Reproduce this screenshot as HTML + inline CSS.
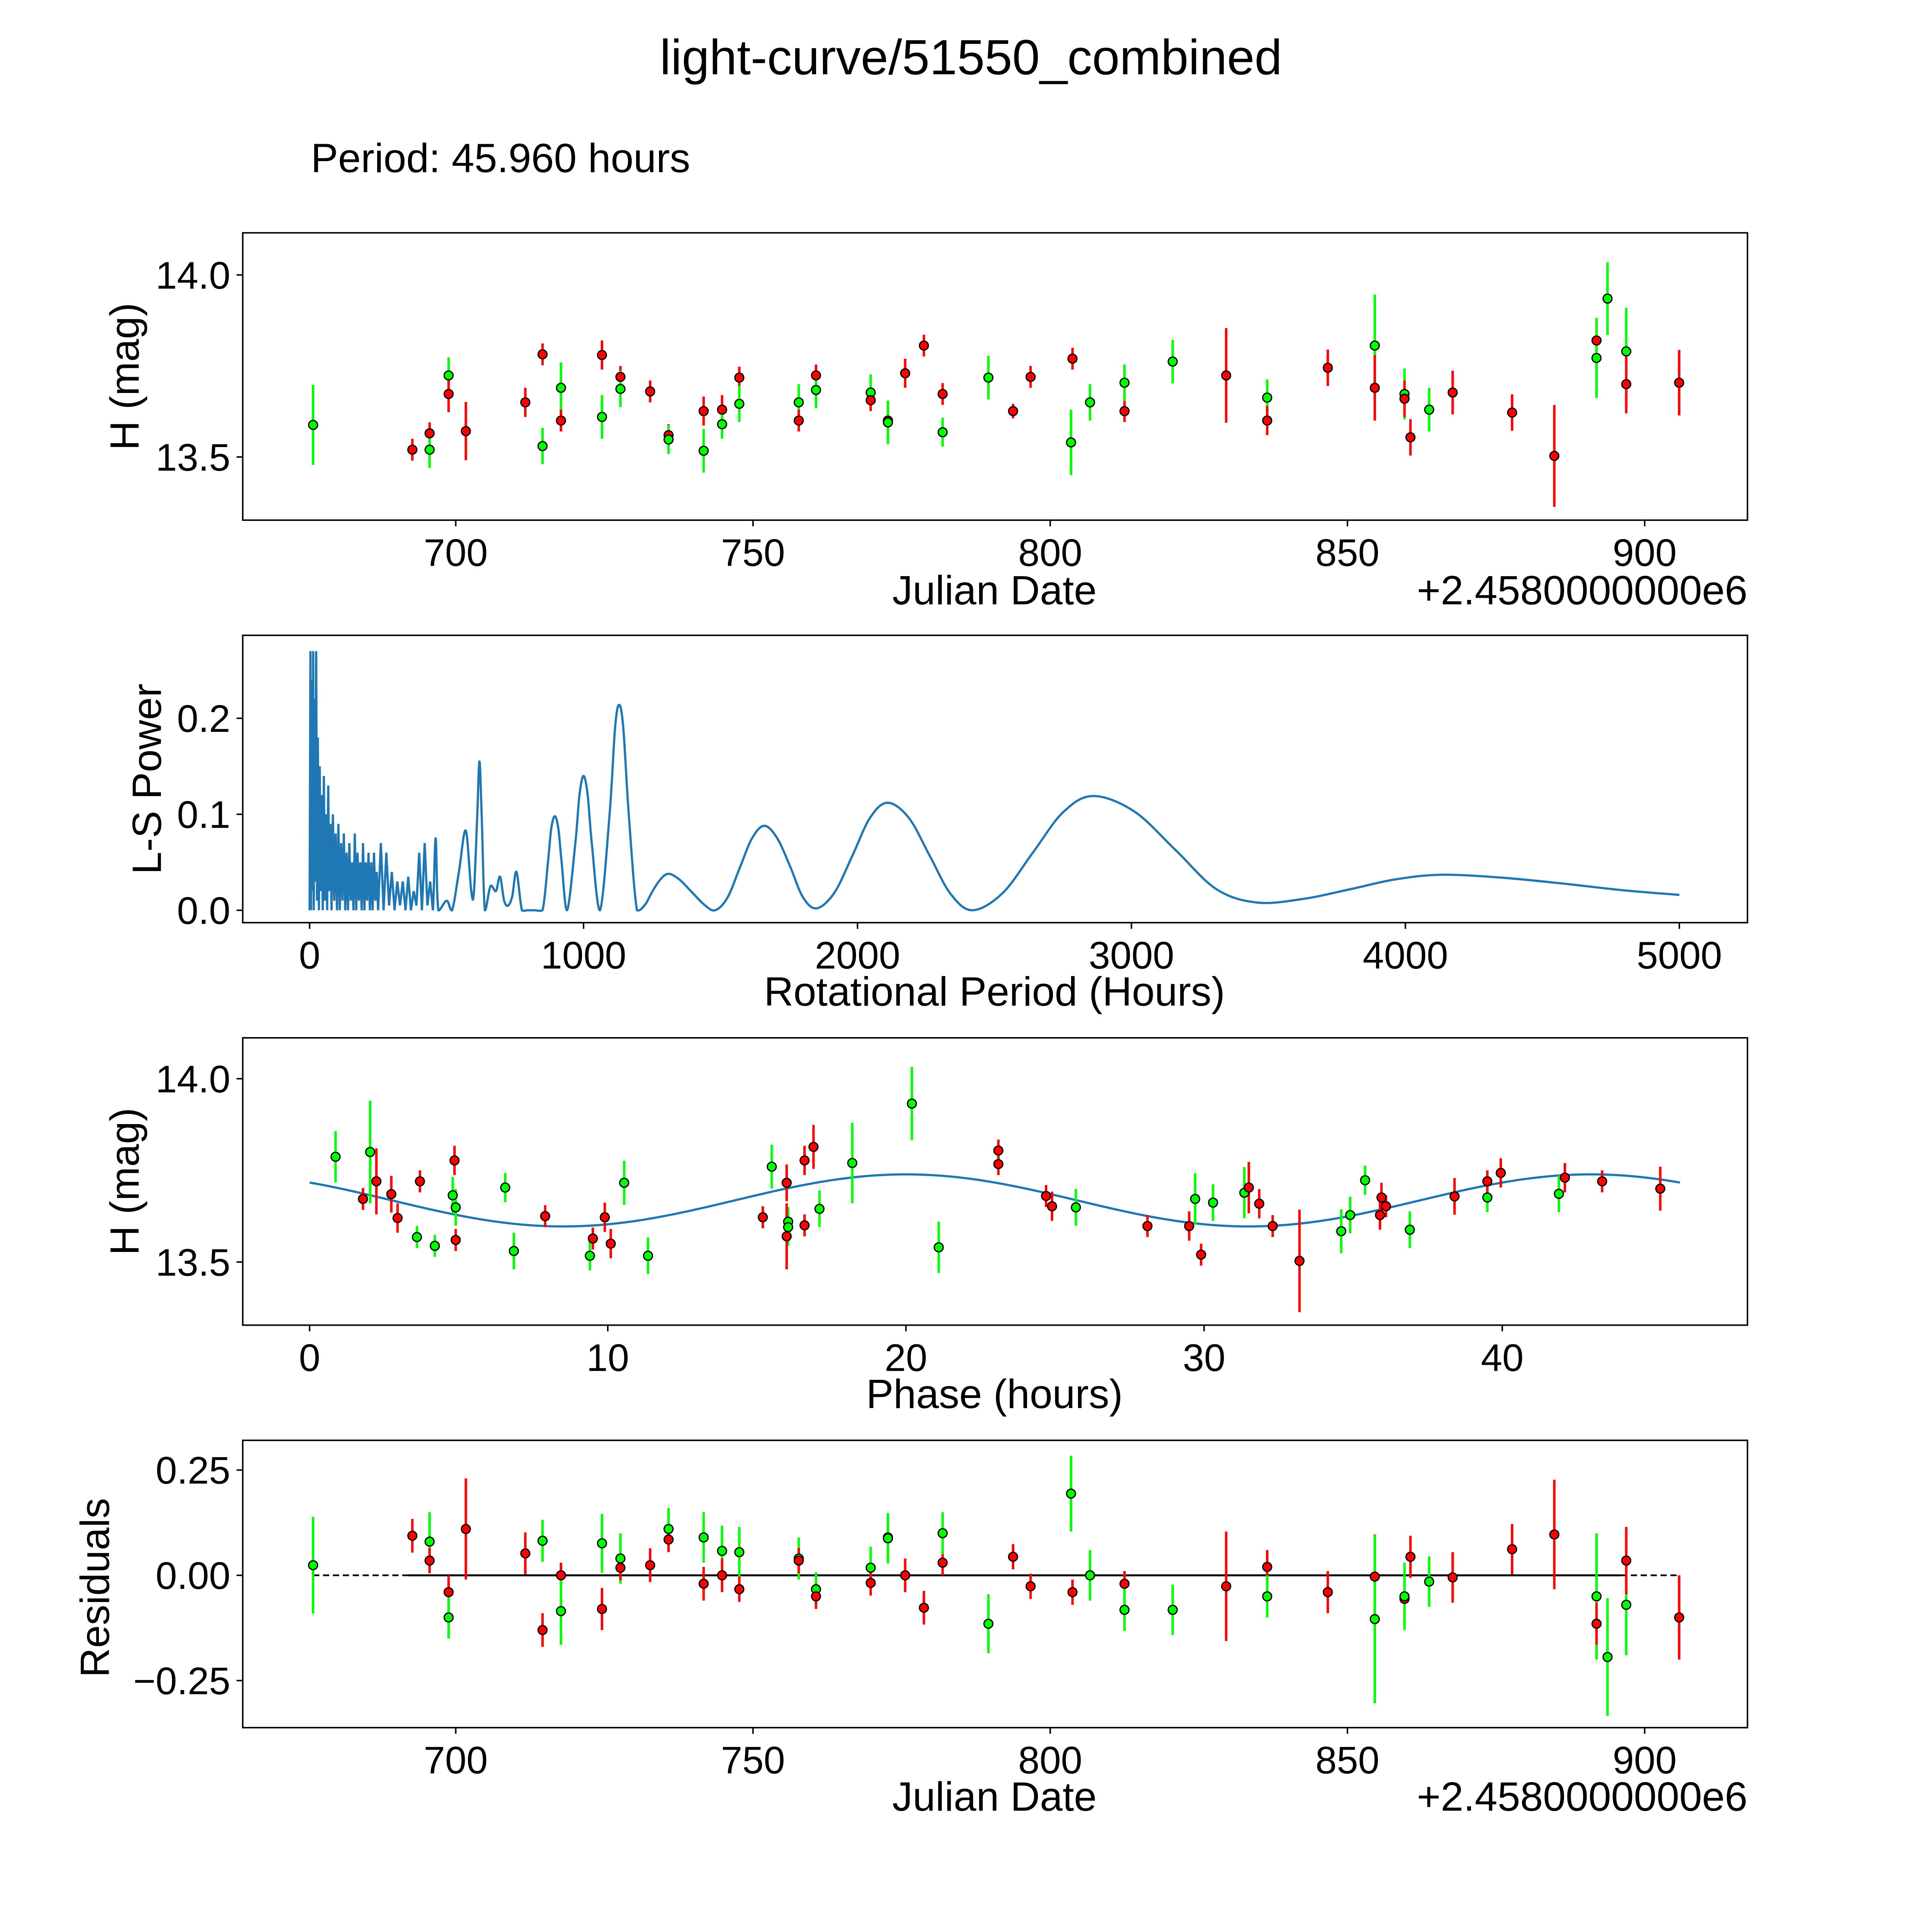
<!DOCTYPE html>
<html><head><meta charset="utf-8"><style>
html,body{margin:0;padding:0;background:#fff;width:100%;height:100%;overflow:hidden}
svg{display:block;position:fixed;left:0;top:0;width:100vw;height:100vh}
text{font-family:"Liberation Sans","DejaVu Sans",sans-serif;fill:#000}
</style></head><body>
<svg id="fig" xmlns="http://www.w3.org/2000/svg" viewBox="0 0 1560 1560" preserveAspectRatio="xMidYMid meet">
<rect width="1560" height="1560" fill="#fff"/>
<text x="784" y="60" font-size="40" text-anchor="middle">light-curve/51550_combined</text>
<text x="251" y="139" font-size="33">Period: 45.960 hours</text>
<g id="layer"></g>
</svg>
<script>
// ---- Panel 1: light curve (JD - 2458000) ----
const lcDate=[676,692.7,695.6,695.6,698.8,698.8,701.7,711.7,714.6,714.6,717.7,717.7,724.6,724.6,727.7,727.7,732.7,735.8,735.8,741.7,741.7,744.8,744.8,747.7,747.7,757.7,757.7,760.6,760.6,769.8,769.8,772.7,772.7,775.6,778.75,781.9,781.9,789.6,793.75,796.7,803.75,803.5,806.7,812.5,812.5,820.6,829.6,836.5,836.5,846.7,854.6,854.6,859.6,859.6,860.6,863.75,867.7,877.7,884.8,891.9,891.9,893.75,896.9,896.9,905.8];
const lcMag=[13.588,13.52,13.565,13.52,13.724,13.673,13.571,13.65,13.782,13.53,13.69,13.60,13.61,13.78,13.72,13.687,13.68,13.56,13.548,13.626,13.517,13.63,13.59,13.718,13.646,13.65,13.60,13.724,13.684,13.677,13.656,13.60,13.595,13.73,13.806,13.673,13.568,13.718,13.626,13.72,13.77,13.54,13.65,13.626,13.704,13.762,13.724,13.663,13.60,13.745,13.806,13.69,13.673,13.66,13.554,13.63,13.677,13.622,13.503,13.82,13.772,13.935,13.79,13.70,13.704];
const lcErr=[0.11,0.03,0.03,0.05,0.05,0.05,0.08,0.04,0.03,0.05,0.07,0.03,0.06,0.04,0.03,0.05,0.03,0.03,0.04,0.04,0.06,0.04,0.04,0.03,0.05,0.05,0.03,0.03,0.05,0.05,0.03,0.04,0.06,0.04,0.03,0.03,0.04,0.06,0.02,0.03,0.03,0.09,0.05,0.03,0.05,0.06,0.13,0.05,0.04,0.05,0.14,0.09,0.07,0.05,0.05,0.06,0.06,0.05,0.14,0.05,0.11,0.10,0.12,0.08,0.09];
const lcColor=["g","r","r","g","g","r","r","r","r","g","g","r","g","r","r","g","r","r","g","r","g","r","g","r","g","g","r","r","g","g","r","r","g","r","r","r","g","g","r","r","r","g","g","r","g","g","r","g","r","r","g","r","g","r","r","g","r","r","r","r","g","g","g","r","r"];

// ---- Panel 2: Lomb-Scargle periodogram ----
const lsPeriod=[0,3,5,8,10,13,15,18,20,24,27,30,34,37,40,44,48,52,56,60,64,68,72,76,80,85,90,95,100,105,110,115,120,125,130,135,140,145,150,155,160,165,170,175,180,185,190,195,200,205,210,215,220,225,230,235,240,245,250,260,270,280,290,300,310,320,330,340,350,360,370,380,390,400,410,420,430,440,
 450,460,470,500,520,545,570,590,600,612,620,628,640,660,680,695,710,725,740,755,775,795,820,850,870,882,895,908,920,940,970,985,1000,1015,1030,1060,1095,1115,1130,1145,1165,1195,
 1225,1250,1280,1310,1350,1395,1440,1480,1525,1570,1615,1660,1707,1755,1800,1850,1915,1980,2045,2110,2188,2265,2340,2420,2530,2640,2750,2860,3010,3160,3310,3460,3630,3800,3960,4130,4350,4570,4790,5000];
const lsPower=[0,0.27,0.0,0.24,0.02,0.27,0.0,0.22,0.03,0.27,0.01,0.18,0.0,0.15,0.02,0.12,0.0,0.14,0.01,0.10,0.0,0.13,0.02,0.09,0.0,0.10,0.01,0.08,0.0,0.09,0.0,0.07,0.01,0.08,0.0,0.06,0.0,0.07,0.01,0.05,0.0,0.08,0.0,0.06,0.01,0.05,0.0,0.07,0.0,0.05,0.01,0.06,0.0,0.05,0.0,0.06,0.01,0.04,0.0,0.07,0.0,0.06,0.005,0.04,0.0,0.03,0.005,0.03,0.0,0.035,0.0,0.02,0.005,0.06,0.0,0.07,0.005,0.03,
 0.0,0.075,0.0,0.01,0.0,0.04,0.083,0.02,0.02,0.10,0.155,0.10,0.0,0.025,0.02,0.035,0.01,0.005,0.015,0.04,0.0,0.0,0.0,0.0,0.05,0.085,0.098,0.085,0.05,0.0,0.07,0.12,0.14,0.12,0.07,0.0,0.10,0.19,0.214,0.19,0.10,0.0,
 0.006,0.019,0.032,0.038,0.032,0.019,0.006,0.0,0.013,0.044,0.075,0.088,0.075,0.045,0.014,0.002,0.018,0.056,0.096,0.112,0.096,0.056,0.017,0.0,0.018,0.06,0.102,0.119,0.103,0.063,0.022,0.008,0.012,0.022,0.032,0.037,0.034,0.028,0.021,0.016];

// ---- Panel 3: phased light curve ----
const phPhase=[0.87,1.79,2.03,2.24,2.74,2.95,3.7,3.6,4.2,4.86,4.8,4.9,4.9,6.56,6.85,7.9,9.4,9.5,9.9,10.1,10.55,11.35,15.2,15.5,16.0,16.05,16.05,16.0,16.6,16.9,16.6,17.1,18.2,20.2,21.1,23.1,23.1,24.7,24.9,25.7,28.1,29.5,29.7,29.9,30.3,31.35,31.5,31.85,32.3,33.2,34.6,34.9,35.4,35.9,35.95,36.1,36.9,38.4,39.5,39.5,39.95,41.9,42.1,43.35,45.3];
const phMag=[13.787,13.672,13.80,13.72,13.685,13.62,13.72,13.568,13.544,13.777,13.682,13.649,13.56,13.703,13.53,13.625,13.517,13.564,13.622,13.55,13.716,13.517,13.622,13.76,13.716,13.61,13.595,13.57,13.777,13.814,13.60,13.645,13.77,13.932,13.54,13.804,13.767,13.68,13.652,13.649,13.598,13.598,13.672,13.52,13.662,13.689,13.703,13.659,13.598,13.503,13.584,13.628,13.723,13.628,13.676,13.652,13.588,13.679,13.676,13.72,13.743,13.686,13.73,13.72,13.70];
const phErr=[0.07,0.03,0.14,0.09,0.05,0.04,0.03,0.03,0.03,0.04,0.05,0.05,0.03,0.04,0.05,0.03,0.04,0.03,0.04,0.04,0.06,0.05,0.03,0.06,0.05,0.04,0.05,0.09,0.04,0.06,0.03,0.05,0.11,0.10,0.07,0.03,0.03,0.03,0.04,0.05,0.03,0.04,0.07,0.03,0.05,0.07,0.07,0.04,0.03,0.14,0.06,0.05,0.04,0.04,0.04,0.03,0.05,0.05,0.04,0.03,0.04,0.05,0.04,0.03,0.06];
const phColor=["g","r","g","r","r","r","r","g","g","r","g","g","r","g","g","r","g","r","r","r","g","g","r","g","r","g","g","r","r","r","r","g","g","g","g","r","r","r","r","g","r","r","g","r","g","g","r","r","r","r","g","g","g","r","r","r","g","r","g","r","r","g","r","r","r"];
// fitted model: mean, amplitude, peak phase (hours), period (hours)
const fitMean=[13.668];
const fitAmp=[0.071];
const fitPeak=[20.0];
const fitPeriod=[45.96];

// ---- Panel 4: residuals ----
const rsDate=[676,692.7,695.6,695.6,698.8,698.8,701.7,711.7,714.6,714.6,717.7,717.7,724.6,724.6,727.7,727.7,732.7,735.8,735.8,741.7,741.7,744.8,744.8,747.7,747.7,757.7,757.7,760.6,760.6,769.8,769.8,772.7,772.7,775.6,778.75,781.9,781.9,789.6,793.75,796.7,803.5,803.75,806.7,812.5,812.5,820.6,829.6,836.5,836.5,846.7,854.6,854.6,859.6,859.6,860.6,863.75,867.7,877.7,884.8,891.9,891.9,893.75,896.9,896.9,905.8];
const rsVal=[0.024,0.094,0.08,0.035,-0.04,-0.1,0.11,0.052,0.082,-0.13,0,-0.085,0.076,-0.08,0.04,0.018,0.024,0.11,0.085,0.09,-0.02,0.058,0,0.055,-0.033,0.04,0.035,-0.033,-0.05,0.018,-0.018,0.09,0.088,0,-0.077,0.03,0.1,-0.115,0.044,-0.026,0.194,-0.04,0,-0.02,-0.082,-0.082,-0.026,0.02,-0.05,-0.04,-0.003,-0.104,-0.056,-0.05,0.044,-0.015,-0.005,0.062,0.097,-0.05,-0.115,-0.194,-0.07,0.035,-0.1];
const rsErr=[0.115,0.04,0.07,0.03,0.04,0.05,0.12,0.05,0.05,0.04,0.03,0.08,0.07,0.05,0.06,0.03,0.04,0.05,0.03,0.06,0.04,0.06,0.04,0.06,0.03,0.05,0.03,0.04,0.03,0.05,0.03,0.04,0.06,0.04,0.04,0.03,0.05,0.07,0.03,0.03,0.09,0.03,0.06,0.03,0.05,0.06,0.13,0.04,0.05,0.05,0.1,0.2,0.05,0.08,0.05,0.06,0.06,0.06,0.13,0.15,0.05,0.14,0.12,0.08,0.1];
const rsColor=["g","r","g","r","r","g","r","r","g","r","r","g","g","r","g","r","r","g","r","g","r","g","r","g","r","g","r","g","r","g","r","r","g","r","r","r","g","g","r","r","g","r","g","r","g","g","r","r","g","r","r","g","r","g","r","g","r","r","r","g","r","g","g","r","r"];

const xTicksJD=[700,750,800,850,900];
const yTicksMag=[13.5,14.0];
const xTicksLS=[0,1000,2000,3000,4000,5000];
const yTicksLS=[0.0,0.1,0.2];
const xTicksPh=[0,10,20,30,40];
const yTicksRs=[-0.25,0.00,0.25];

const NS="http://www.w3.org/2000/svg";
const layer=document.getElementById('layer');
function mk(tag,attrs,parent){const e=document.createElementNS(NS,tag);for(const k in attrs)e.setAttribute(k,attrs[k]);(parent||layer).appendChild(e);return e;}
function lin(d0,d1,p0,p1){return v=>p0+(v-d0)*(p1-p0)/(d1-d0);}
const COL={r:"#ff0000",g:"#00ff00"};
const TICKFS=31, LABFS=33;

function frame(name){
  const g=mk('g',{});
  
  
  return g;
}
function border(g,L,T,R,B){const r=mk('rect',{x:L,y:T,width:R-L,height:B-T,fill:'none',stroke:'#000','stroke-width':1.2},g);}
function xTicks(g,ticks,sx,B,fmt){ticks.forEach(t=>{const x=sx(t);
  const l=mk('line',{x1:x,x2:x,y1:B,y2:B+5,stroke:'#000','stroke-width':1.2},g);
  const tx=mk('text',{x:x,y:B+37,'font-size':TICKFS,'text-anchor':'middle'},g);tx.textContent=fmt(t);});}
function yTicks(g,ticks,sy,L,fmt){ticks.forEach(t=>{const y=sy(t);
  const l=mk('line',{x1:L-5,x2:L,y1:y,y2:y,stroke:'#000','stroke-width':1.2},g);
  const tx=mk('text',{x:L-10,y:y+11,'font-size':TICKFS,'text-anchor':'end'},g);tx.textContent=fmt(t);});}
function label(g,txt,x,y,rot,name){const t=mk('text',{x:x,y:y,'font-size':LABFS,'text-anchor':'middle',transform:rot?`rotate(-90 ${x} ${y})`:''},g);t.textContent=txt;}
function points(g,xs,ys,es,cs,sx,sy){
  for(let i=0;i<xs.length;i++){const x=sx(xs[i]);
    const l=mk('line',{x1:x,x2:x,y1:sy(ys[i]-es[i]),y2:sy(ys[i]+es[i]),stroke:COL[cs[i]],'stroke-width':2},g);
    
    }
  for(let i=0;i<xs.length;i++){
    const c=mk('circle',{cx:sx(xs[i]),cy:sy(ys[i]),r:3.6,fill:COL[cs[i]],stroke:'#000','stroke-width':1},g);
    
    }
}
const fmt1=v=>v.toFixed(1), fmt0=v=>String(v), fmt2=v=>(v<0?'\u2212':'')+Math.abs(v).toFixed(2);
function offsetLabel(g,R,y){const o=mk('text',{x:R,y:y,'font-size':LABFS,'text-anchor':'end'},g);o.textContent='+2.4580000000e6';}

// Panel 1
(function(){const L=196,T=188,R=1411,B=420;const g=frame('light-curve-panel');
  const sx=lin(700,900,368,1328), sy=lin(13.5,14.0,369,222);
  points(g,lcDate,lcMag,lcErr,lcColor,sx,sy);
  border(g,L,T,R,B);xTicks(g,xTicksJD,sx,B,fmt0);yTicks(g,yTicksMag,sy,L,fmt1);
  label(g,'Julian Date',803,488,false,'x-axis-title');label(g,'H (mag)',112,304,true,'y-axis-title');
  offsetLabel(g,R,488);
})();
// Panel 2
(function(){const L=196,T=513,R=1411,B=745;const g=frame('periodogram-panel');
  const sx=lin(0,5000,250,1356), sy=lin(0,0.2,735,580);
  const P=lsPeriod.map((p,i)=>[sx(p),sy(lsPower[i])]);
  let d='M'+P[0][0]+','+P[0][1];
  for(let i=0;i<P.length-1;i++){
    if(lsPeriod[i+1]<=450){d+=' L'+P[i+1][0]+','+P[i+1][1];continue;}
    const p0=P[Math.max(0,i-1)],p1=P[i],p2=P[i+1],p3=P[Math.min(P.length-1,i+2)];
    const c1=[p1[0]+(p2[0]-p0[0])/6,p1[1]+(p2[1]-p0[1])/6],c2=[p2[0]-(p3[0]-p1[0])/6,p2[1]-(p3[1]-p1[1])/6];
    c1[1]=Math.min(c1[1],sy(0)+1);c2[1]=Math.min(c2[1],sy(0)+1);
    d+=` C${c1[0]},${c1[1]} ${c2[0]},${c2[1]} ${p2[0]},${p2[1]}`;}
  const pl=mk('path',{d:d,fill:'none',stroke:'#1f77b4','stroke-width':1.8},g);
  
  
  border(g,L,T,R,B);xTicks(g,xTicksLS,sx,B,fmt0);yTicks(g,yTicksLS,sy,L,fmt1);
  label(g,'Rotational Period (Hours)',803,812,false,'x-axis-title');label(g,'L-S Power',130,629,true,'y-axis-title');
})();
// Panel 3
(function(){const L=196,T=838,R=1411,B=1070;const g=frame('phase-panel');
  const sx=lin(0,40,250,1213), sy=lin(13.5,14.0,1019,871);
  let d='';for(let k=0;k<=300;k++){const ph=fitPeriod[0]*k/300;const m=fitMean[0]+fitAmp[0]*Math.cos(4*Math.PI*(ph-fitPeak[0])/fitPeriod[0]);d+=(k?' L':'M')+sx(ph)+','+sy(m);}
  const pl=mk('path',{d:d,fill:'none',stroke:'#1f77b4','stroke-width':1.8},g);
  
  
  points(g,phPhase,phMag,phErr,phColor,sx,sy);
  border(g,L,T,R,B);xTicks(g,xTicksPh,sx,B,fmt0);yTicks(g,yTicksMag,sy,L,fmt1);
  label(g,'Phase (hours)',803,1137,false,'x-axis-title');label(g,'H (mag)',112,954,true,'y-axis-title');
})();
// Panel 4
(function(){const L=196,T=1163,R=1411,B=1395;const g=frame('residuals-panel');
  const sx=lin(700,900,368,1328), sy=lin(0,0.25,1272,1187);
  const dl=mk('line',{x1:sx(rsDate[0]),x2:sx(rsDate[rsDate.length-1]),y1:sy(0),y2:sy(0),stroke:'#000','stroke-width':1.4,'stroke-dasharray':'5,3'},g);
  
  
  const sl=mk('line',{x1:sx(692),x2:sx(896),y1:sy(0),y2:sy(0),stroke:'#000','stroke-width':1.6},g);
  
  
  points(g,rsDate,rsVal,rsErr,rsColor,sx,sy);
  border(g,L,T,R,B);xTicks(g,xTicksJD,sx,B,fmt0);yTicks(g,yTicksRs,sy,L,fmt2);
  label(g,'Julian Date',803,1462,false,'x-axis-title');label(g,'Residuals',88,1282,true,'y-axis-title');
  offsetLabel(g,R,1462);
})();
</script>
</body></html>
